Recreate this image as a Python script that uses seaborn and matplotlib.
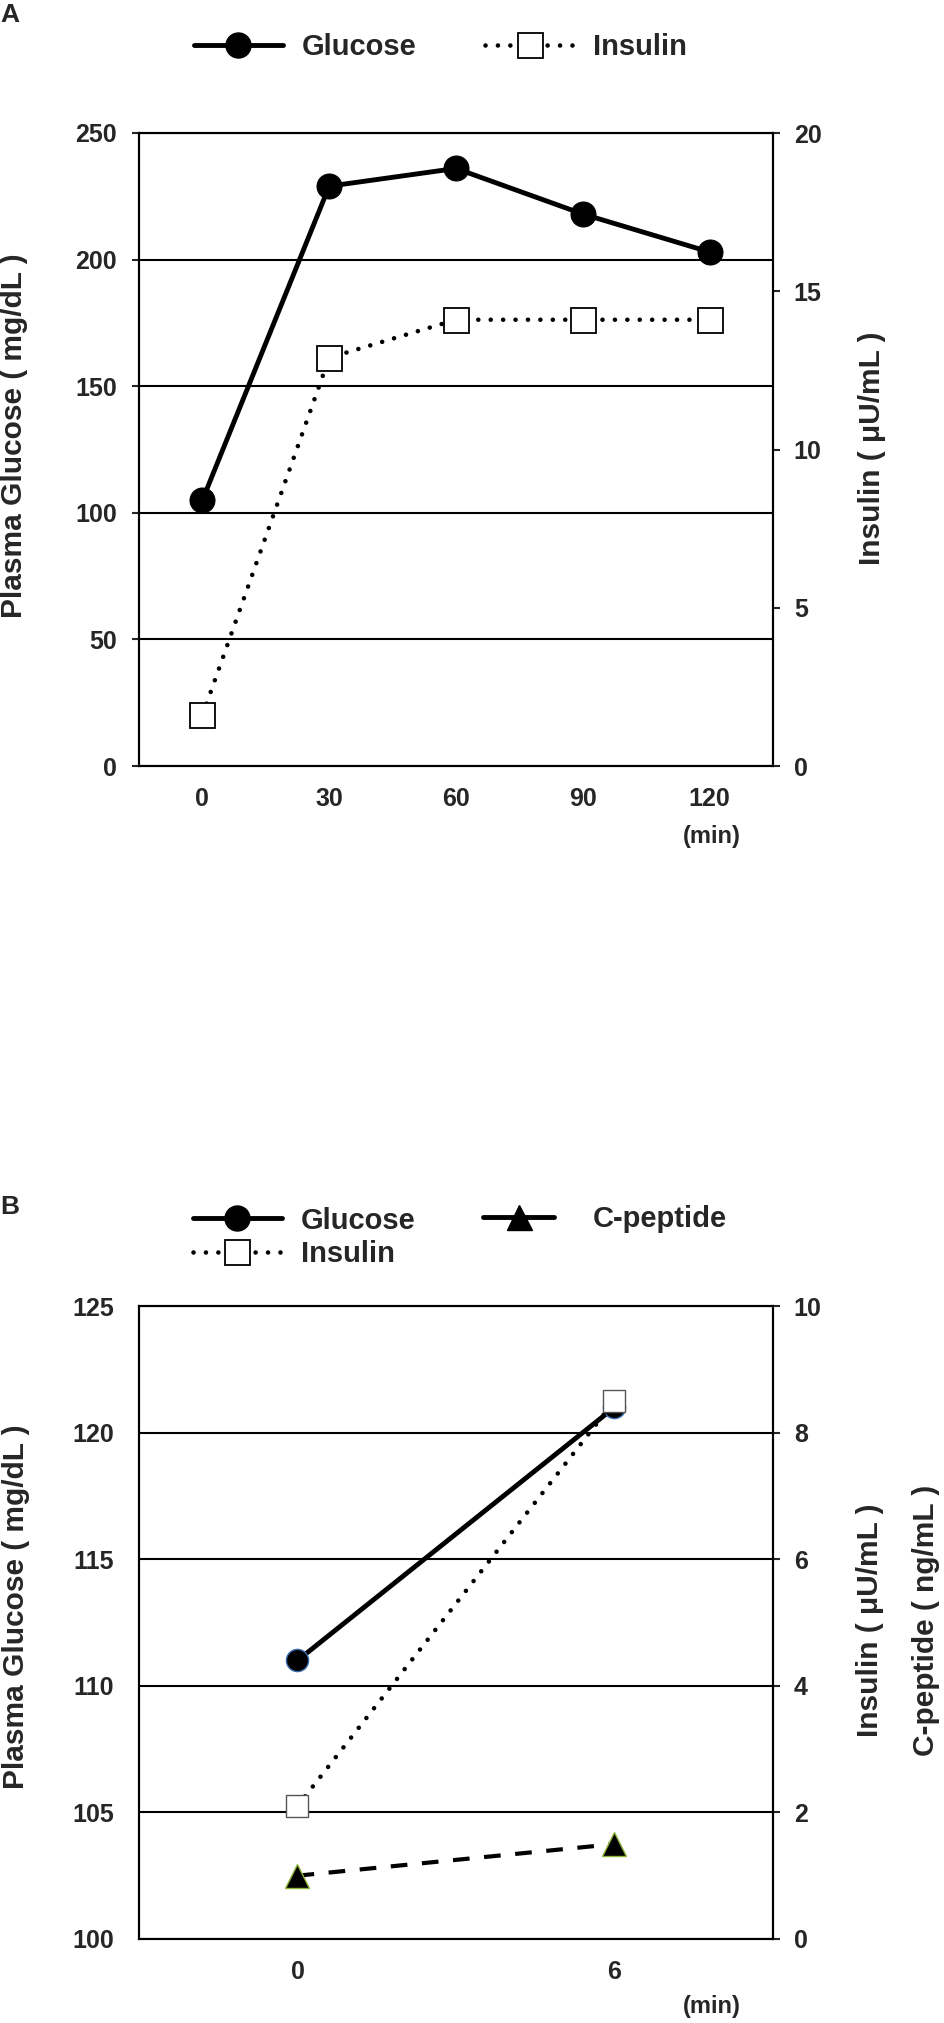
import matplotlib
matplotlib.use('Agg')
import matplotlib.pyplot as plt
import seaborn as sns
from matplotlib.lines import Line2D

# panel A: OGTT
minutes_a = [0, 30, 60, 90, 120]
glucose_a = [105, 229, 236, 218, 203]
insulin_a = [1.6, 12.9, 14.1, 14.1, 14.1]

# panel B: glucagon test
minutes_b = [0, 6]
glucose_b = [111, 121]
insulin_b = [2.1, 8.5]
cpeptide_b = [1.0, 1.5]

sns.set_style('ticks')
plt.rcParams['font.family'] = ['Liberation Sans', 'DejaVu Sans']
plt.rcParams['font.weight'] = 'bold'
plt.rcParams['axes.linewidth'] = 1.5
plt.rcParams['axes.edgecolor'] = 'black'

W, H = 945, 2023
fig = plt.figure(figsize=(W / 100, H / 100), dpi=100)

dot = (0, (0.01, 2.7))
dash = (0, (4, 3.5))


def px(x, y):
    return x / W, 1 - y / H


def style_axes(ax, ax2, left_ticks):
    ax.grid(axis='y', color='black', lw=1.5)
    ax.grid(axis='x', visible=False)
    ax.tick_params(axis='x', length=0, pad=15, labelsize=18)
    if left_ticks:
        ax.tick_params(axis='y', direction='out', length=5, width=1.5, pad=11, labelsize=18)
    else:
        ax.tick_params(axis='y', length=0, pad=18, labelsize=18)
    ax2.tick_params(axis='y', direction='out', length=5, width=1.5, pad=10, labelsize=18)
    for a in (ax, ax2):
        for s in a.spines.values():
            s.set_visible(True)
            s.set_color('black')
            s.set_linewidth(1.5)


# ---------------- panel A
axA = fig.add_axes([139 / W, 1 - 766 / H, 634 / W, 633 / H])
axA2 = axA.twinx()

sns.lineplot(x=minutes_a, y=glucose_a, ax=axA, color='black', lw=3.5,
             marker='o', markersize=18, markeredgecolor='black', legend=False)
sns.lineplot(x=minutes_a, y=insulin_a, ax=axA2, color='black', lw=3.3,
             linestyle=dot, dash_capstyle='round', marker='s', markersize=18,
             markerfacecolor='white', markeredgecolor='black', markeredgewidth=1.3,
             legend=False)

axA.set_xlim(-15, 135)
axA.set_xticks(minutes_a)
axA.set_ylim(0, 250)
axA.set_yticks(range(0, 251, 50))
axA2.set_ylim(0, 20)
axA2.set_yticks(range(0, 21, 5))
axA.set_xlabel('')
axA.set_ylabel('')
axA2.set_ylabel('')
style_axes(axA, axA2, True)

fig.text(*px(10, 15), 'A', fontsize=19, ha='center', va='center')
fig.text(*px(14, 436), 'Plasma Glucose ( mg/dL )', rotation=90, fontsize=21.5,
         ha='center', va='center')
fig.text(*px(872, 448), 'Insulin ( μU/mL )', rotation=90, fontsize=21.5,
         ha='center', va='center')
fig.text(*px(712, 836), '(min)', fontsize=17, ha='center', va='center')

hA = [Line2D([], [], color='black', lw=3.5, marker='o', markersize=18),
      Line2D([], [], color='black', lw=3.3, linestyle=dot, dash_capstyle='round',
             marker='s', markersize=18, markerfacecolor='white',
             markeredgecolor='black', markeredgewidth=1.3)]
fig.legend(hA, ['Glucose', 'Insulin'], loc='center left', bbox_to_anchor=px(194, 47),
           ncol=2, frameon=False, fontsize=21, handlelength=3.05, handletextpad=0.65,
           columnspacing=2.35, borderpad=0, borderaxespad=0)

# ---------------- panel B
axB = fig.add_axes([139 / W, 1 - 1939 / H, 634 / W, 633 / H])
axB2 = axB.twinx()

sns.lineplot(x=minutes_b, y=glucose_b, ax=axB, color='black', lw=3.5,
             marker='o', markersize=16, markeredgecolor='#3a6fb0', markeredgewidth=1,
             legend=False)
sns.lineplot(x=minutes_b, y=cpeptide_b, ax=axB2, color='black', lw=3,
             linestyle=dash, marker='^', markersize=17,
             markeredgecolor='#8db33a', markeredgewidth=1, legend=False)
sns.lineplot(x=minutes_b, y=insulin_b, ax=axB2, color='black', lw=3.3,
             linestyle=dot, dash_capstyle='round', marker='s', markersize=16,
             markerfacecolor='white', markeredgecolor='#555555', markeredgewidth=1,
             legend=False)

axB.set_xlim(-3, 9)
axB.set_xticks(minutes_b)
axB.set_ylim(100, 125)
axB.set_yticks(range(100, 126, 5))
axB2.set_ylim(0, 10)
axB2.set_yticks(range(0, 11, 2))
axB.set_xlabel('')
axB.set_ylabel('')
axB2.set_ylabel('')
style_axes(axB, axB2, False)

fig.text(*px(10, 1207), 'B', fontsize=19, ha='center', va='center')
fig.text(*px(16, 1607), 'Plasma Glucose ( mg/dL )', rotation=90, fontsize=21.5,
         ha='center', va='center')
fig.text(*px(870, 1620), 'Insulin ( μU/mL )', rotation=90, fontsize=21.5,
         ha='center', va='center')
fig.text(*px(926, 1620), 'C-peptide ( ng/mL )', rotation=90, fontsize=21.5,
         ha='center', va='center')
fig.text(*px(712, 2007), '(min)', fontsize=17, ha='center', va='center')

hB1 = [Line2D([], [], color='black', lw=3.5, marker='o', markersize=18),
       Line2D([], [], color='black', lw=3.3, linestyle=dot, dash_capstyle='round',
              marker='s', markersize=18, markerfacecolor='white',
              markeredgecolor='black', markeredgewidth=1.3)]
fig.legend(hB1, ['Glucose', 'Insulin'], loc='center left',
           bbox_to_anchor=px(193, 1237.5), frameon=False, fontsize=21,
           handlelength=3.05, handletextpad=0.65, labelspacing=0.2,
           borderpad=0, borderaxespad=0)
hB2 = [Line2D([], [], color='black', lw=3.5, marker='^', markersize=18)]
fig.legend(hB2, ['C-peptide'], loc='center left', bbox_to_anchor=px(483, 1219),
           frameon=False, fontsize=21, handlelength=2.45, handletextpad=1.3,
           borderpad=0, borderaxespad=0)

fig.savefig('out.png', dpi=100)
